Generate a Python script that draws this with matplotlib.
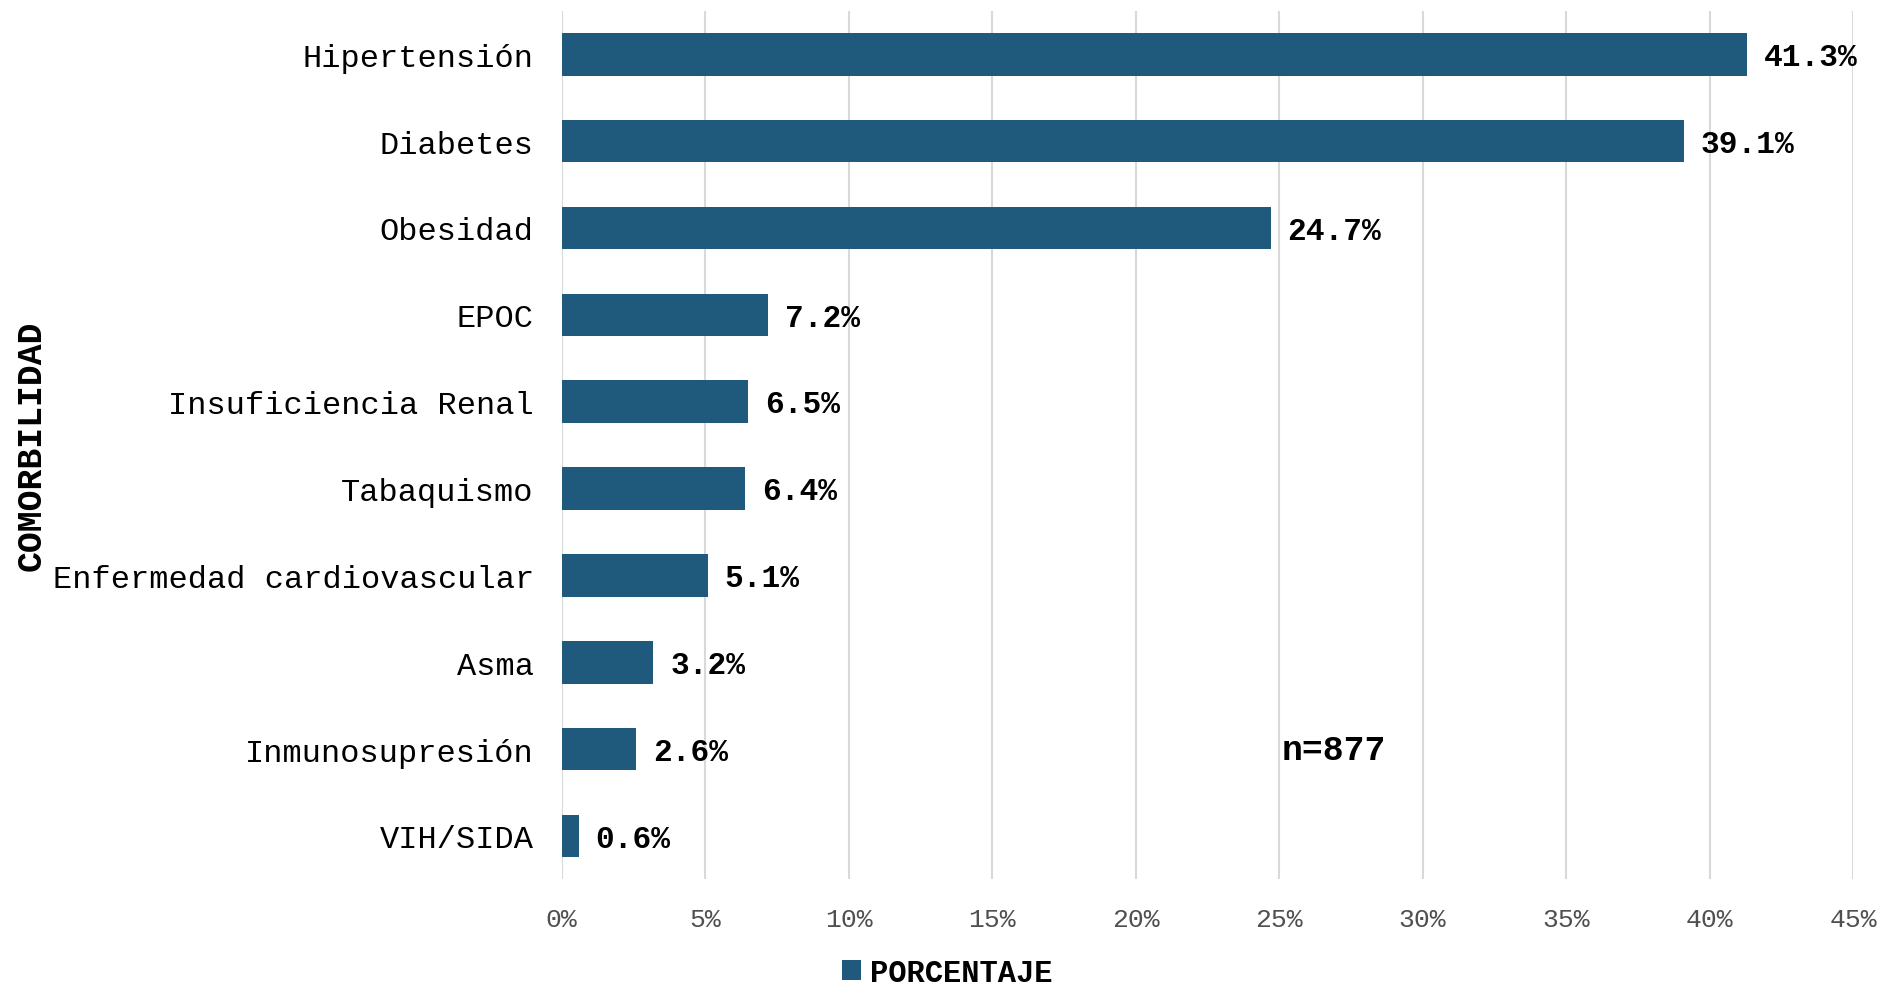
import matplotlib.pyplot as plt
from matplotlib.ticker import FuncFormatter

# datos: comorbilidades (%), n=877
comorbilidades = ['Hipertensión', 'Diabetes', 'Obesidad', 'EPOC', 'Insuficiencia Renal',
                  'Tabaquismo', 'Enfermedad cardiovascular', 'Asma', 'Inmunosupresión', 'VIH/SIDA']
porcentajes = [41.3, 39.1, 24.7, 7.2, 6.5, 6.4, 5.1, 3.2, 2.6, 0.6]
x_ticks = [0, 5, 10, 15, 20, 25, 30, 35, 40, 45]

COLOR = '#1f5a7c'
FONT = 'Liberation Mono'

fig = plt.figure(figsize=(18.91, 9.87), dpi=100)
ax = fig.add_axes([0.297, 0.108, 0.683, 0.880])

y = list(range(len(comorbilidades)))
bars = ax.barh(y, porcentajes, height=0.49, color=COLOR, label='PORCENTAJE', zorder=3)

for b, v in zip(bars, porcentajes):
    ax.annotate(f'{v}%', (b.get_width(), b.get_y() + b.get_height() / 2),
                xytext=(12, -2), textcoords='offset points', va='center', ha='left',
                fontsize=22.5, fontweight='bold', family=FONT)

ax.set_ylim(len(comorbilidades) - 0.5, -0.5)
ax.set_yticks(y)
ax.set_yticklabels(comorbilidades, fontsize=23, family=FONT)
ax.set_xlim(0, 45)
ax.set_xticks(x_ticks)
ax.xaxis.set_major_formatter(FuncFormatter(lambda v, p: f'{v:.0f}%'))
for lbl in ax.get_xticklabels():
    lbl.set_family(FONT)
    lbl.set_fontsize(19)
    lbl.set_color('#505050')

ax.tick_params(axis='y', length=0, pad=20)
ax.tick_params(axis='x', length=0, pad=20)
ax.grid(axis='x', color='#d9d9d9', linewidth=1.5, zorder=0)
for s in ax.spines.values():
    s.set_visible(False)

ax.set_ylabel('COMORBILIDAD', fontsize=25, fontweight='bold', family=FONT)
ax.yaxis.set_label_coords(-0.398, 0.5)

ax.text(26.9, 8, 'n=877', fontsize=25, fontweight='bold', family=FONT, ha='center', va='center')

fig.legend(loc='center', bbox_to_anchor=(0.501, 0.0135), frameon=False,
           prop={'family': FONT, 'size': 22, 'weight': 'bold'},
           handlelength=0.6, handleheight=0.6, handletextpad=0.3)

fig.savefig('out.png', dpi=100)
